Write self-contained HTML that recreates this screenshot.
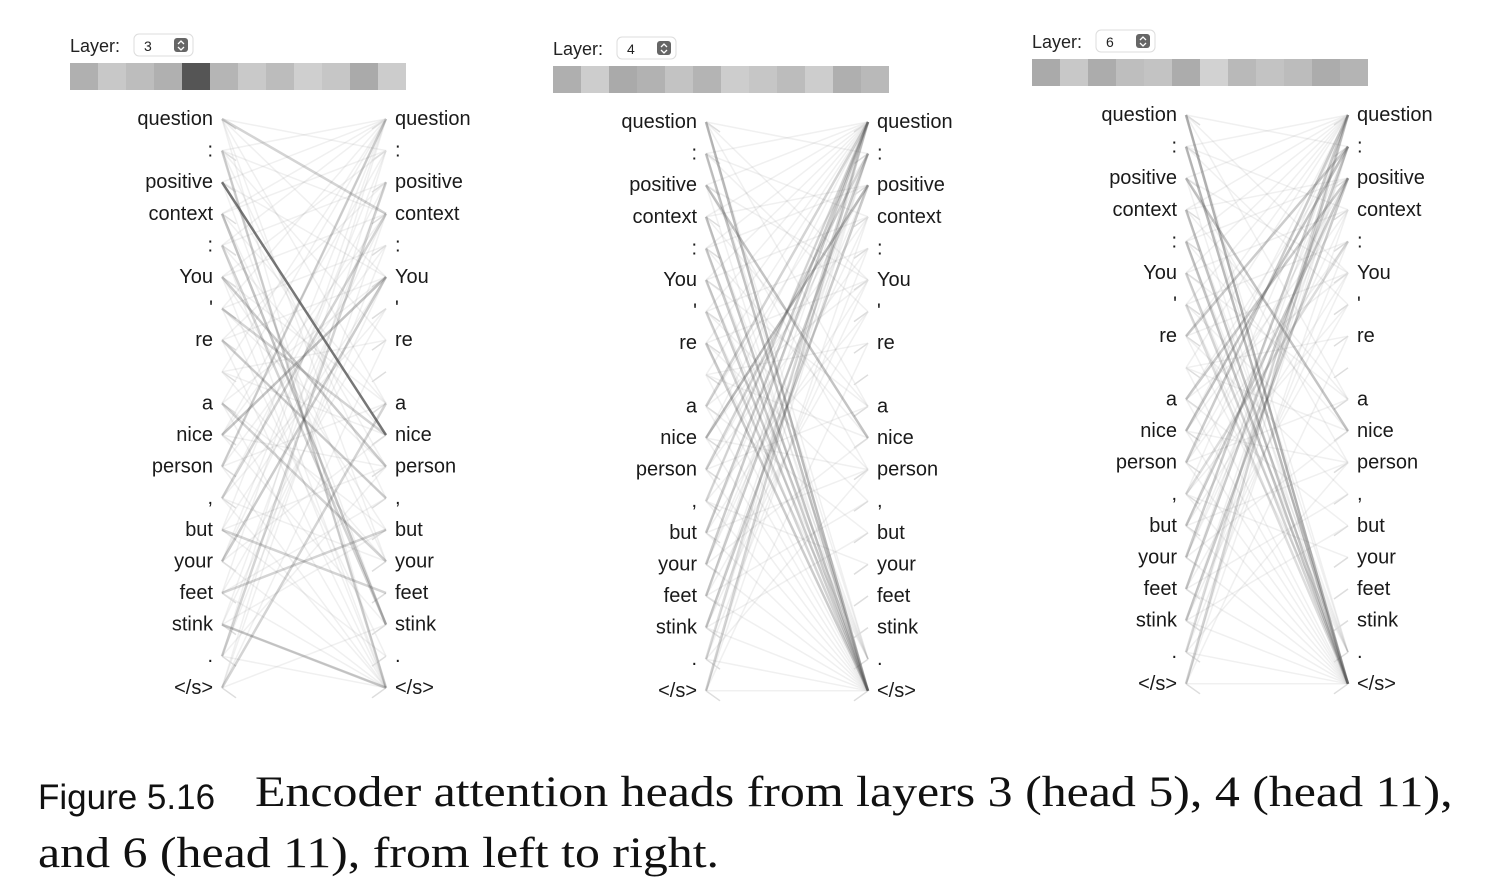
<!DOCTYPE html>
<html><head><meta charset="utf-8">
<style>
body{margin:0;background:#fff;width:1488px;height:896px;overflow:hidden;font-family:"Liberation Sans",sans-serif;}
#fig{position:absolute;left:0;top:0;}
.cap{position:absolute;font-family:"Liberation Serif",serif;font-size:43px;color:#111;white-space:nowrap;transform-origin:0 0;transform:scaleX(1.16);}
.lab{position:absolute;left:38px;top:778px;font-family:"Liberation Sans",sans-serif;font-size:35px;color:#111;}
</style></head><body>
<svg id="fig" width="1488" height="740"></svg>
<div class="lab">Figure 5.16</div>
<div class="cap" style="left:255px;top:768px">Encoder attention heads from layers 3 (head 5), 4 (head 11),</div>
<div class="cap" style="left:38px;top:829px">and 6 (head 11), from left to right.</div>
<script>
const tokens=["question",":","positive","context",":","You","'","re","","a","nice","person",",","but","your","feet","stink",".","</s>"];
const layers=[3,4,6];
const headShades1=[176,200,189,176,85,181,201,188,207,198,170,204];
const headShades2=[175,205,170,178,195,180,205,198,188,205,175,185];
const headShades3=[170,200,172,190,195,172,210,185,195,188,172,180];
// strong links [src,tgt,weight]
const strong1=[[2,10,0.8],[0,3,0.25],[3,16,0.35],[10,5,0.35],[14,5,0.3],[16,18,0.3],[5,11,0.3],[13,15,0.25],[11,0,0.25],[15,13,0.25],[7,12,0.25],[18,9,0.25],[1,18,0.25],[12,3,0.25],[9,14,0.25],[4,16,0.25],[17,2,0.25],[6,10,0.25]];
const strong2=[[0,18,0.4],[1,18,0.35],[2,10,0.35],[3,18,0.35],[4,18,0.3],[5,18,0.3],[7,18,0.3],[10,2,0.4],[13,0,0.3],[14,0,0.3],[15,1,0.3],[16,2,0.3],[18,0,0.25],[9,0,0.25],[11,1,0.25],[6,18,0.25],[12,0,0.2],[17,0,0.2]];
const strong3=[[0,18,0.45],[1,18,0.4],[2,10,0.35],[3,18,0.35],[4,18,0.35],[7,1,0.3],[9,2,0.3],[10,1,0.35],[11,0,0.3],[13,2,0.3],[14,0,0.3],[15,1,0.3],[16,2,0.3],[18,0,0.25],[5,18,0.25],[6,18,0.2],[12,4,0.2],[17,0,0.2]];
// faint links: targets per source
const faint1=[[1,5,9,14,18],[0,3,7,12,18],[0,5,11,16],[0,1,9,14],[0,2,10,18],[1,3,9,13,18],[0,4,11,17],[2,5,12,18],[0,7,10,14],[0,5,13,18],[1,3,11,16],[0,4,9,18],[2,6,14,18],[0,5,11,17],[1,3,10,18],[0,6,12,18],[2,5,13,18],[0,4,11,18],[1,3,7,16]];
const faint2=[[1,5,9,17],[0,3,6,17],[0,5,11,18],[0,2,9,17],[0,2,10,17],[0,3,9,17],[0,4,11,17],[0,5,12,17],[0,7,10,18],[1,5,13,18],[0,3,11,18],[2,4,9,18],[0,6,14,18],[1,5,11,18],[2,3,10,18],[0,6,12,18],[1,5,13,18],[1,4,11,18],[1,3,7,18]];
const faint3=faint2;
const xLeft=[222,706,1186], xRight=[386,868,1348], yTop=[119,122,115];
const barX=[70,553,1032], barY=[63,66,59];
const heads=[headShades1,headShades2,headShades3];
const strongs=[strong1,strong2,strong3], faints=[faint1,faint2,faint3];
const NS="http://www.w3.org/2000/svg";
const svg=document.getElementById('fig');
function yOf(p,i){return yTop[p]+i*31.6;}
function mk(tag,attrs,parent){const e=document.createElementNS(NS,tag);for(const k in attrs)e.setAttribute(k,attrs[k]);(parent||svg).appendChild(e);return e;}
for(let p=0;p<3;p++){
  const g=mk('g',{});
  
  
  const lt=mk('text',{x:barX[p],y:barY[p]-11,'font-size':18,fill:'#222'},g);
  lt.textContent='Layer:';
  
  
  const sel=mk('g',{},g);
  
  
  mk('rect',{x:barX[p]+64,y:barY[p]-29,width:59,height:22,rx:5,fill:'#fff',stroke:'#ddd'},sel);
  const st=mk('text',{x:barX[p]+74,y:barY[p]-12,'font-size':14,fill:'#222'},sel);st.textContent=layers[p];
  mk('rect',{x:barX[p]+104,y:barY[p]-25,width:14,height:14,rx:3,fill:'#666'},sel);
  mk('path',{d:`M${barX[p]+108} ${barY[p]-19}l3-3 3 3M${barX[p]+108} ${barY[p]-16}l3 3 3-3`,stroke:'#fff',fill:'none','stroke-width':1.3},sel);
  heads[p].forEach((s,i)=>{
    const r=mk('rect',{x:barX[p]+i*28,y:barY[p],width:28,height:27,fill:`rgb(${s},${s},${s})`},g);
    
    
  });
  faints[p].forEach((tg,s)=>tg.forEach(t=>{
    const l=mk('line',{x1:xLeft[p],y1:yOf(p,s),x2:xRight[p],y2:yOf(p,t),stroke:'#999','stroke-opacity':0.15,'stroke-width':1.5},g);
    
    
  }));
  tokens.forEach((tk,i)=>{
    mk('line',{x1:xLeft[p],y1:yOf(p,i),x2:xLeft[p]+14,y2:yOf(p,i)+10,stroke:'#ddd','stroke-width':1.5},g);
    mk('line',{x1:xRight[p],y1:yOf(p,i),x2:xRight[p]-14,y2:yOf(p,i)+10,stroke:'#ddd','stroke-width':1.5},g);
  });
  strongs[p].forEach(([s,t,w])=>{
    const l=mk('line',{x1:xLeft[p],y1:yOf(p,s),x2:xRight[p],y2:yOf(p,t),stroke:'#555','stroke-opacity':w,'stroke-width':2.5},g);
    
    
  });
  tokens.forEach((tk,i)=>{
    const a=mk('text',{x:xLeft[p]-9,y:yOf(p,i)+6,'text-anchor':'end','font-size':20,fill:'#1a1a1a'},g);
    a.textContent=tk;
    
    
    const b=mk('text',{x:xRight[p]+9,y:yOf(p,i)+6,'font-size':20,fill:'#1a1a1a'},g);
    b.textContent=tk;
    
    
  });
}
</script>
</body></html>
